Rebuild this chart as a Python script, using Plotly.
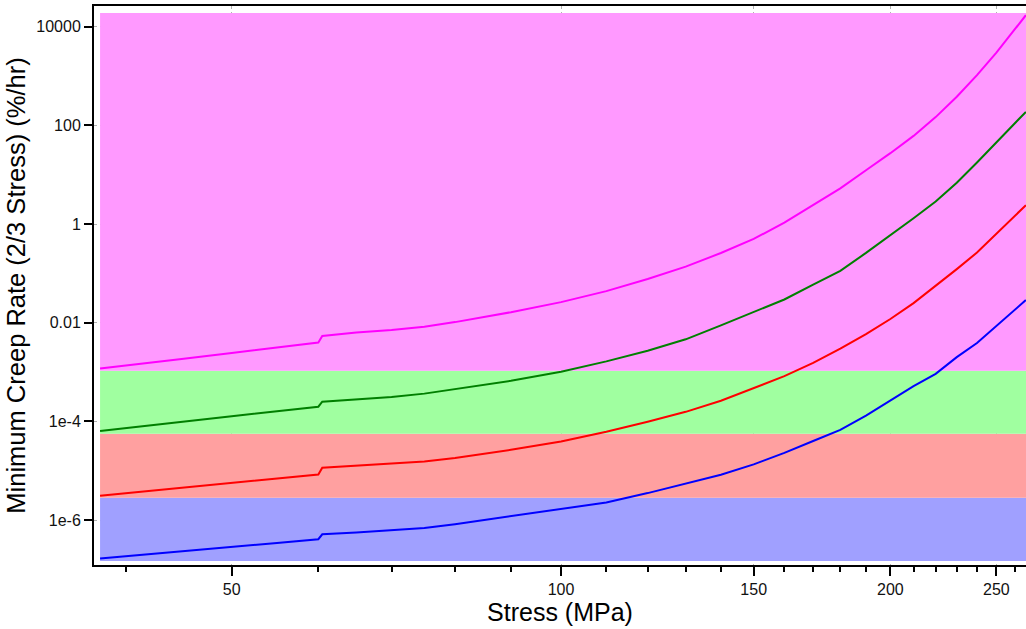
import plotly.graph_objects as go

# ---------------- data ----------------
stress_mpa = [37.9, 40, 45, 50, 55, 60, 60.5, 65, 70, 75, 80, 90, 100, 110, 120, 130,
              140, 150, 160, 170, 180, 190, 200, 210, 220, 230, 240, 250, 260, 266]

rate_magenta = [1.180e-3, 1.349e-3, 1.845e-3, 2.443e-3, 3.141e-3, 3.954e-3, 5.383e-3,
                6.324e-3, 7.112e-3, 8.241e-3, 1.028e-2, 1.633e-2, 2.612e-2, 4.365e-2,
                7.674e-2, 0.1365, 0.2582, 0.4989, 1.062, 2.382, 5.260, 12.25, 27.23,
                60.95, 146.6, 379.3, 1040, 2958, 8933, 17020]

rate_green = [6.412e-5, 7.278e-5, 9.772e-5, 1.268e-4, 1.603e-4, 1.986e-4, 2.506e-4,
              2.805e-4, 3.133e-4, 3.656e-4, 4.467e-4, 6.637e-4, 1.016e-3, 1.644e-3,
              2.692e-3, 4.603e-3, 8.851e-3, 1.629e-2, 2.951e-2, 5.916e-2, 0.1127,
              0.2594, 0.5875, 1.309, 2.844, 6.871, 17.62, 45.71, 111.9, 187.5]

rate_red = [3.133e-6, 3.508e-6, 4.508e-6, 5.649e-6, 6.934e-6, 8.356e-6, 1.153e-5,
            1.256e-5, 1.380e-5, 1.538e-5, 1.820e-5, 2.655e-5, 3.917e-5, 6.180e-5,
            9.863e-5, 1.563e-4, 2.624e-4, 4.710e-4, 8.241e-4, 1.531e-3, 2.972e-3,
            5.875e-3, 1.189e-2, 2.495e-2, 5.546e-2, 0.1219, 0.2642, 0.6383, 1.479, 2.404]

rate_blue = [1.660e-7, 1.837e-7, 2.323e-7, 2.851e-7, 3.451e-7, 4.102e-7, 5.152e-7,
             5.623e-7, 6.180e-7, 6.887e-7, 8.260e-7, 1.199e-6, 1.637e-6, 2.280e-6,
             3.524e-6, 5.495e-6, 8.318e-6, 1.346e-5, 2.301e-5, 4.009e-5, 6.730e-5,
             1.306e-4, 2.630e-4, 5.176e-4, 9.183e-4, 2.009e-3, 3.882e-3, 8.453e-3,
             1.824e-2, 2.877e-2]

# zone limits (rate) : blue, red, green, magenta
band_limits = [1.48e-7, 2.84e-6, 5.63e-5, 1.06e-3, 1.89e4]
band_x = [37.9, 280]

y_tickvals = [1e-6, 1e-4, 1e-2, 1, 100, 10000]
y_ticktext = ["1e-6", "1e-4", "0.01", "1", "100", "10000"]
x_tickvals = [50, 100, 150, 200, 250]
x_ticktext = ["50", "100", "150", "200", "250"]
x_minor = [40, 60, 70, 80, 90, 110, 120, 130, 140, 160, 170, 180, 190,
           210, 220, 230, 240, 260]

band_fill = ["#A0A0FF", "#FFA0A0", "#A0FFA0", "#FF99FF"]
line_colors = ["#FF00FF", "#007F00", "#FF0000", "#0000FF"]
series = [rate_magenta, rate_green, rate_red, rate_blue]

# ---------------- figure ----------------
fig = go.Figure()

for i, col in enumerate(band_fill):
    lo, hi = band_limits[i], band_limits[i + 1]
    fig.add_trace(go.Scatter(
        x=[band_x[0], band_x[1], band_x[1], band_x[0], band_x[0]],
        y=[lo, lo, hi, hi, lo],
        fill="toself", fillcolor=col, mode="lines",
        line=dict(width=0, color=col), hoverinfo="skip", showlegend=False))

for rates, col in zip(series, line_colors):
    fig.add_trace(go.Scatter(x=stress_mpa, y=rates, mode="lines",
                             line=dict(color=col, width=2), showlegend=False))

font_family = "Liberation Sans, Arial, sans-serif"

fig.update_layout(
    width=1026, height=629,
    margin=dict(l=94, r=0, t=6, b=64, autoexpand=False),
    paper_bgcolor="white", plot_bgcolor="white",
    font=dict(family=font_family, color="#111"),
    showlegend=False,
)

fig.update_xaxes(
    type="log", range=[1.5731, 2.4250],
    tickmode="array", tickvals=x_tickvals, ticktext=x_ticktext,
    ticks="outside", ticklen=9, tickwidth=1.5, tickcolor="black",
    tickfont=dict(size=16, family=font_family, color="#111"),
    showline=True, linecolor="black", linewidth=2, mirror=True,
    showgrid=True, gridcolor="#b0b0b0", griddash="dot", gridwidth=1,
    minor=dict(tickvals=x_minor, ticks="outside", ticklen=5, tickwidth=1.5,
               tickcolor="black", showgrid=False),
    title=dict(text="Stress (MPa)", font=dict(size=25, family=font_family, color="black"),
               standoff=5),
    zeroline=False, automargin=False,
)

fig.update_yaxes(
    type="log", range=[-6.9098, 4.4174],
    tickmode="array", tickvals=y_tickvals, ticktext=y_ticktext,
    ticks="outside", ticklen=8, tickwidth=1.5, tickcolor="black",
    tickfont=dict(size=16, family=font_family, color="#111"),
    showline=True, linecolor="black", linewidth=2, mirror=False,
    showgrid=True, gridcolor="#b0b0b0", griddash="dot", gridwidth=1,
    title=dict(text="Minimum Creep Rate (2/3 Stress) (%/hr)",
               font=dict(size=25.5, family=font_family, color="black"), standoff=3),
    zeroline=False, automargin=False,
)

fig.write_html(
    "out.html",
    config={"displayModeBar": False},
    post_script="document.body.style.margin='0';document.body.style.overflow='hidden';",
)
